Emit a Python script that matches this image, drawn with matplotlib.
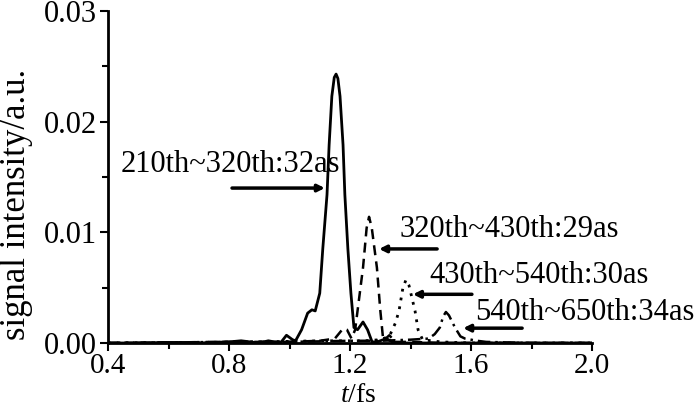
import matplotlib
matplotlib.use("Agg")
import matplotlib.pyplot as plt
from matplotlib.ticker import MultipleLocator, FormatStrFormatter

plt.rcParams['font.family'] = ['Liberation Serif', 'DejaVu Serif']
plt.rcParams['mathtext.fontset'] = 'custom'
plt.rcParams['mathtext.it'] = 'Liberation Serif:italic'
plt.rcParams['mathtext.rm'] = 'Liberation Serif'

# 210th~320th harmonics (solid)
t1 = [0.40, 0.50, 0.60, 0.70, 0.80, 0.84, 0.87, 0.90, 0.93, 0.95, 0.97, 0.99,
      1.01, 1.02, 1.04, 1.06, 1.074, 1.085, 1.10, 1.11, 1.124, 1.131, 1.14,
      1.148, 1.154, 1.160, 1.167, 1.177, 1.183, 1.193, 1.203, 1.213, 1.225,
      1.243, 1.258, 1.273, 1.29, 1.32, 1.34, 1.37, 1.45, 1.60, 2.0]
y1 = [0.0, 0.0, 0.00005, 0.0, 0.0001, 0.0002, 0.0001, 0.0, 0.0002, 0.0001, 0.0, 0.0007,
      0.0003, 0.0002, 0.0012, 0.0027, 0.0030, 0.0029, 0.0045, 0.0085, 0.0134, 0.0179, 0.0223,
      0.0240, 0.0243, 0.0239, 0.0223, 0.0179, 0.0134, 0.0085, 0.0045, 0.0014, 0.0012,
      0.0019, 0.0012, 0.0001, 0.0001, 0.0004, 0.0001, 0.0, 0.0, 0.0, 0.0]

# 320th~430th harmonics (dashed)
t2 = [0.40, 0.80, 1.00, 1.10, 1.15, 1.177, 1.19, 1.205, 1.217, 1.23, 1.243, 1.255,
      1.263, 1.272, 1.289, 1.30, 1.31, 1.33, 1.35, 1.40, 1.50, 2.0]
y2 = [0.0, 0.0001, 0.0001, 0.0002, 0.0004, 0.0013, 0.0012, 0.0004, 0.0012, 0.0040, 0.0068, 0.0104,
      0.0114, 0.0104, 0.0068, 0.0030, 0.0002, 0.0007, 0.0001, 0.0001, 0.0, 0.0]

# 430th~540th harmonics (dotted)
t3 = [0.40, 0.90, 1.10, 1.25, 1.30, 1.33, 1.35, 1.362, 1.375, 1.385, 1.395, 1.415,
      1.425, 1.44, 1.50, 1.60, 2.0]
y3 = [0.0, 0.0001, 0.0002, 0.0002, 0.0003, 0.0006, 0.0018, 0.0029, 0.0050, 0.0057, 0.0052, 0.0029,
      0.0012, 0.0003, 0.0001, 0.0, 0.0]

# 540th~650th harmonics (dash-dot)
t4 = [0.40, 0.80, 1.00, 1.20, 1.30, 1.40, 1.46, 1.48, 1.497, 1.508, 1.517, 1.527,
      1.547, 1.565, 1.58, 1.62, 1.65, 1.80, 2.0]
y4 = [0.0, 0.0001, 0.0001, 0.0002, 0.0002, 0.0003, 0.0004, 0.0008, 0.0014, 0.0024, 0.0028, 0.0025,
      0.0014, 0.0006, 0.0004, 0.0002, 0.0001, 0.0, 0.0]

labels = ["210th~320th:32as", "320th~430th:29as", "430th~540th:30as", "540th~650th:34as"]

fig = plt.figure(figsize=(7, 4.04), dpi=100)
# axes box in pixels: x 108..592, y 11..343 (from top)
ax = fig.add_axes([108 / 700, 61 / 404, 484 / 700, 332 / 404])

ax.plot(t1, y1, color='k', lw=2.0, ls='-')
ax.plot(t2, y2, color='k', lw=1.8, ls=(0, (4, 2.5)))
ax.plot(t3, y3, color='k', lw=2.0, ls=(0, (1, 2.2)))
ax.plot(t4, y4, color='k', lw=1.8, ls=(0, (5, 2, 1, 2)))

ax.set_xlim(0.4, 2.0)
ax.set_ylim(0.0, 0.03)
ax.xaxis.set_major_locator(MultipleLocator(0.4))
ax.xaxis.set_minor_locator(MultipleLocator(0.2))
ax.yaxis.set_major_locator(MultipleLocator(0.01))
ax.yaxis.set_minor_locator(MultipleLocator(0.005))
ax.xaxis.set_major_formatter(FormatStrFormatter('%.1f'))
ax.yaxis.set_major_formatter(FormatStrFormatter('%.2f'))
ax.tick_params(which='both', direction='out', width=1.5, labelsize=22, pad=2)
ax.tick_params(axis='x', labelsize=21, pad=1)
ax.tick_params(which='major', length=6)
ax.tick_params(which='minor', length=4)
for s in ['top', 'right']:
    ax.spines[s].set_visible(False)
for s in ['left', 'bottom']:
    ax.spines[s].set_linewidth(2.0)

ax.set_xlabel(r'$t$/fs', fontsize=20)
ax.xaxis.set_label_coords(0.517, -0.12)
fig.text(17 / 700, 1 - 204 / 404, 'signal intensity/a.u.', fontsize=25,
         rotation=90, ha='center', va='center')

arr = dict(arrowstyle='-|>', lw=2.5, color='k', mutation_scale=10, shrinkA=0, shrinkB=0)
ax.annotate('', xy=(1.117, 0.0140), xytext=(0.81, 0.0140), arrowprops=arr)
ax.annotate('', xy=(1.296, 0.0085), xytext=(1.488, 0.0085), arrowprops=arr)
ax.annotate('', xy=(1.408, 0.0044), xytext=(1.603, 0.0044), arrowprops=arr)
ax.annotate('', xy=(1.574, 0.00134), xytext=(1.769, 0.00134), arrowprops=arr)

ax.text(0.803, 0.0161, labels[0], fontsize=22, ha='center', va='center')
ax.text(1.365, 0.0103, labels[1], fontsize=22, ha='left', va='center')
ax.text(1.464, 0.0061, labels[2], fontsize=22, ha='left', va='center')
ax.text(1.613, 0.0028, labels[3], fontsize=22, ha='left', va='center')

fig.savefig('out.png', dpi=100)
